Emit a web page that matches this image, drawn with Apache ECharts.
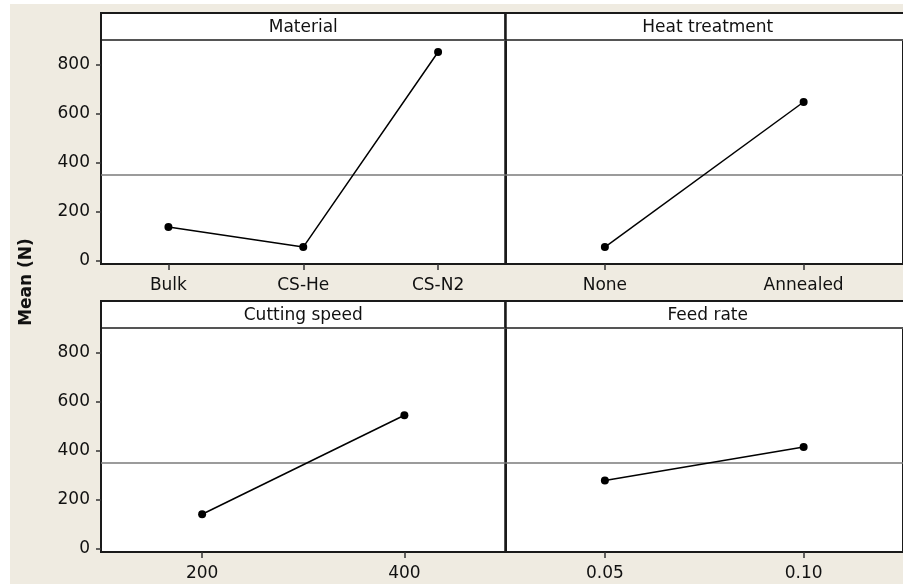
<!DOCTYPE html>
<html>
<head>
<meta charset="utf-8">
<script src="https://cdn.jsdelivr.net/npm/echarts@6/dist/echarts.min.js"></script>
<style>
html,body{margin:0;padding:0;background:#ffffff;}
#chart{width:903px;height:584px;}
</style>
</head>
<body>
<div id="chart"></div>
<script>
// ---- data ----
const panelTitles = ['Material', 'Heat treatment', 'Cutting speed', 'Feed rate'];
const materialLevels = ['Bulk', 'CS-He', 'CS-N2'];
const materialMeans = [139, 57, 853];
const heatLevels = ['None', 'Annealed'];
const heatMeans = [57, 649];
const speedLevels = ['200', '400'];
const speedMeans = [142, 546];
const feedLevels = ['0.05', '0.10'];
const feedMeans = [280, 416];
const yTicks = [0, 200, 400, 600, 800];
const grandMean = 351;
const yAxisTitle = 'Mean (N)';

// ---- layout ----
const FONT = 'DejaVu Sans';
const panelLeft = [101, 505.5, 101, 505.5];
const panelW = 404.5;
const stripTop = [13, 13, 301, 301];
const stripH = 27;
const gridH = 224;
const levels = [materialLevels, heatLevels, speedLevels, feedLevels];
const means = [materialMeans, heatMeans, speedMeans, feedMeans];

const chart = echarts.init(document.getElementById('chart'), null, {renderer: 'canvas'});

const grids = [], xAxes = [], yAxes = [], series = [], titles = [], graphics = [];

graphics.push({type: 'rect', z: -10, shape: {x: 10, y: 4, width: 893, height: 580}, style: {fill: '#efebe1'}});

for (let i = 0; i < 4; i++) {
  const top = stripTop[i] + stripH;
  grids.push({left: panelLeft[i], top: top, width: panelW, height: gridH,
    show: true, backgroundColor: '#ffffff', borderColor: '#1a1a1a', borderWidth: 2});
  xAxes.push({type: 'category', gridIndex: i, data: levels[i], boundaryGap: true,
    axisLine: {show: true, onZero: false, lineStyle: {color: '#1a1a1a', width: 2}},
    axisTick: {show: true, alignWithLabel: true, length: 6, lineStyle: {color: '#333', width: 1.5}},
    axisLabel: {show: true, margin: 13, color: '#111', fontFamily: FONT, fontSize: 17},
    splitLine: {show: false}});
  const leftCol = (i % 2 === 0);
  yAxes.push({type: 'value', gridIndex: i, min: -12, max: 902,
    axisLine: {show: true, onZero: false, lineStyle: {color: '#1a1a1a', width: 2}},
    axisTick: {show: leftCol, length: 5, customValues: yTicks, lineStyle: {color: '#333', width: 1.5}},
    axisLabel: {show: leftCol, customValues: yTicks, margin: 11, color: '#111', fontFamily: FONT, fontSize: 17},
    splitLine: {show: false}});
  series.push({type: 'line', xAxisIndex: i, yAxisIndex: i, data: means[i],
    symbol: 'circle', symbolSize: 8, itemStyle: {color: '#000'},
    lineStyle: {color: '#000', width: 1.5}, animation: false, z: 5,
    markLine: {silent: true, symbol: 'none', label: {show: false}, animation: false,
      lineStyle: {color: '#7a7a7a', width: 1.5, type: 'solid'},
      data: [{yAxis: grandMean}]}});
  // title strip
  graphics.push({type: 'rect', z: 1, shape: {x: panelLeft[i], y: stripTop[i], width: panelW, height: stripH},
    style: {fill: '#ffffff', stroke: '#1a1a1a', lineWidth: 2}});
  graphics.push({type: 'line', z: 10, shape: {x1: panelLeft[i] + 1, y1: top, x2: panelLeft[i] + panelW, y2: top},
    style: {stroke: '#555555', lineWidth: 2}});
  titles.push({text: panelTitles[i], left: panelLeft[i] + panelW / 2, top: stripTop[i] + 6,
    padding: 0, textAlign: 'center',
    textStyle: {fontFamily: FONT, fontSize: 17, fontWeight: 'normal', color: '#111'}});
}
// vertical dividers across the strips
graphics.push({type: 'line', z: 10, shape: {x1: 505.5, y1: 13, x2: 505.5, y2: 40}, style: {stroke: '#1a1a1a', lineWidth: 2}});
graphics.push({type: 'line', z: 10, shape: {x1: 505.5, y1: 301, x2: 505.5, y2: 328}, style: {stroke: '#1a1a1a', lineWidth: 2}});
graphics.push({type: 'text', z: 10, x: 27, y: 282, rotation: Math.PI / 2,
  style: {text: yAxisTitle, font: 'bold 17px "DejaVu Sans"', fill: '#111', textAlign: 'center', textVerticalAlign: 'middle'}});

chart.setOption({
  animation: false,
  backgroundColor: '#ffffff',
  title: titles,
  grid: grids,
  xAxis: xAxes,
  yAxis: yAxes,
  series: series,
  graphic: graphics
});
</script>
</body>
</html>
